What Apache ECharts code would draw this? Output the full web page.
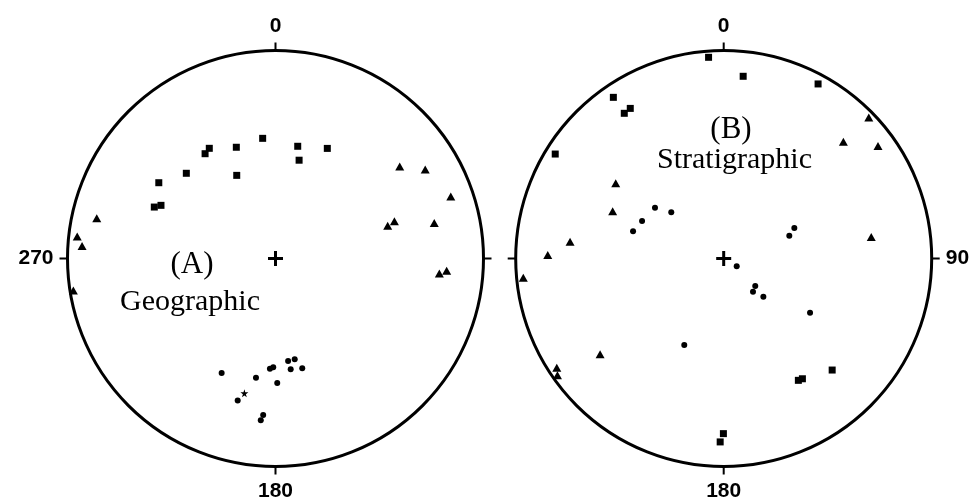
<!DOCTYPE html>
<html>
<head>
<meta charset="utf-8">
<script src="https://cdn.jsdelivr.net/npm/echarts@6/dist/echarts.min.js"></script>
<style>
html,body{margin:0;padding:0;background:#fff;}
#chart{width:976px;height:498px;}
</style>
</head>
<body>
<div id="chart"></div>
<script>
// Points given as [azimuth (deg, clockwise from north), normalized radial distance]
const geoSquares = [[353.9,0.581],[340.6,0.567],[329.0,0.618],[326.1,0.607],[11.2,0.550],[13.5,0.486],[25.2,0.585],[313.7,0.593],[335.0,0.441],[303.0,0.669],[294.9,0.607],[293.0,0.633]];
const geoTriangles = [[53.5,0.743],[59.3,0.837],[70.5,0.894],[73.7,0.562],[72.6,0.599],[77.4,0.782],[282.7,0.881],[276.3,0.959],[273.7,0.932],[95.2,0.791],[94.1,0.825],[261.0,0.984]];
const geoDots = [[205.2,0.608],[189.3,0.581],[182.9,0.531],[181.2,0.523],[173.0,0.497],[169.2,0.493],[172.2,0.538],[166.3,0.543],[179.2,0.599],[194.9,0.707],[184.5,0.755],[185.2,0.781]];
const geoStar = [[193.0,0.665]];
const strSquares = [[355.7,0.970],[6.1,0.881],[28.4,0.954],[325.6,0.939],[328.1,0.850],[325.6,0.846],[301.8,0.953],[135.8,0.748],[146.8,0.691],[148.5,0.687],[180.1,0.842],[181.1,0.882]];
const strTriangles = [[45.8,0.973],[45.7,0.804],[53.9,0.918],[304.9,0.633],[293.0,0.580],[81.7,0.717],[276.2,0.743],[271.1,0.846],[264.5,0.968],[232.2,0.752],[236.8,0.959],[234.9,0.977]];
const strDots = [[306.5,0.411],[311.4,0.336],[294.7,0.432],[286.7,0.455],[66.6,0.370],[70.8,0.334],[121.0,0.073],[131.0,0.201],[138.6,0.213],[134.0,0.265],[122.1,0.490],[204.5,0.457]];
const centerMark = [[0,0]];
const leftTickLabels = {0:'0',180:'180',270:'270'};
const rightTickLabels = {0:'0',90:'90',180:'180'};
const panelTitles = ['(A)','Geographic','(B)','Stratigraphic'];

const toPolar = arr => arr.map(p => [p[1], p[0]]);
const PLUS = 'path://M0,6L15,6L15,9L0,9Z M6,0L9,0L9,15L6,15Z';
const STAR = 'path://M50,0L61,35L98,35L68,57L79,91L50,70L21,91L32,57L2,35L39,35Z';

function angleAxis(idx, labels){
  return {
    polarIndex: idx, type:'value', min:0, max:360, interval:90,
    startAngle:90, clockwise:true,
    axisLine:{show:true, lineStyle:{color:'#000', width:3}},
    axisTick:{show:true, length:8, lineStyle:{color:'#000', width:2}},
    axisLabel:{show:true, margin:14, color:'#000', fontSize:21, fontWeight:'bold',
      fontFamily:'Liberation Sans, Arial, sans-serif',
      formatter: v => labels[v] || ''},
    splitLine:{show:false}
  };
}
function radiusAxis(idx){
  return {polarIndex: idx, type:'value', min:0, max:1,
    axisLine:{show:false}, axisTick:{show:false}, axisLabel:{show:false}, splitLine:{show:false}};
}
function sc(idx, data, symbol, size){
  return {type:'scatter', coordinateSystem:'polar', polarIndex:idx, data: toPolar(data),
    symbol: symbol, symbolSize: size, itemStyle:{color:'#000', opacity:1}, silent:true};
}

const chart = echarts.init(document.getElementById('chart'), null, {renderer:'canvas'});
const serif = 'Liberation Serif, Times New Roman, serif';
chart.setOption({
  animation:false,
  backgroundColor:'#fff',
  polar:[{center:[275.5,258.5], radius:208},{center:[723.7,258.5], radius:208}],
  angleAxis:[angleAxis(0,leftTickLabels), angleAxis(1,rightTickLabels)],
  radiusAxis:[radiusAxis(0), radiusAxis(1)],
  series:[
    sc(0, geoSquares, 'rect', 7),
    sc(0, geoTriangles, 'triangle', [9,8]),
    sc(0, geoDots, 'circle', 6),
    sc(0, geoStar, STAR, 8),
    sc(0, centerMark, PLUS, 15),
    sc(1, strSquares, 'rect', 7),
    sc(1, strTriangles, 'triangle', [9,8]),
    sc(1, strDots, 'circle', 6),
    sc(1, centerMark, PLUS, 15)
  ],
  graphic:[
    {type:'text', x:192, y:265, style:{text:panelTitles[0], font:'31px '+serif, fill:'#000', align:'center', verticalAlign:'middle'}},
    {type:'text', x:190, y:302, style:{text:panelTitles[1], font:'30px '+serif, fill:'#000', align:'center', verticalAlign:'middle'}},
    {type:'text', x:731, y:130, style:{text:panelTitles[2], font:'31px '+serif, fill:'#000', align:'center', verticalAlign:'middle'}},
    {type:'text', x:734.5, y:160, style:{text:panelTitles[3], font:'30px '+serif, fill:'#000', align:'center', verticalAlign:'middle'}}
  ]
});
</script>
</body>
</html>
